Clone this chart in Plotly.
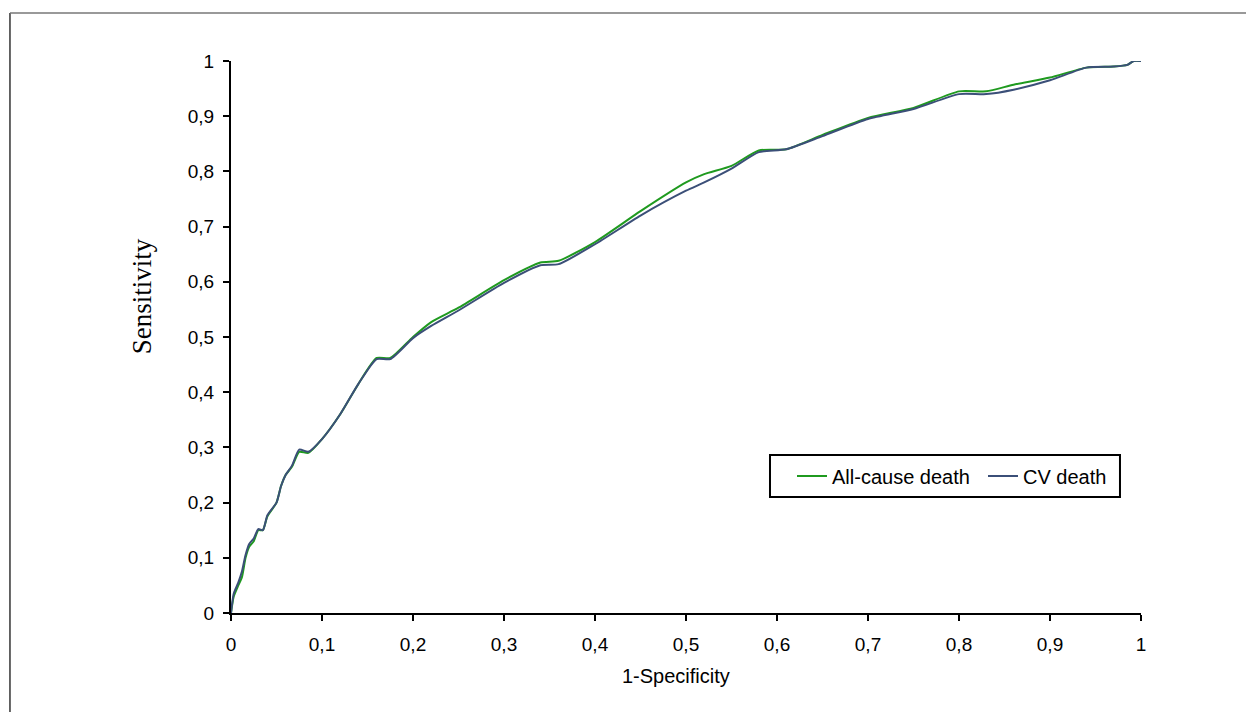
import plotly.graph_objects as go

# All-cause death ROC
fpr_all = [0, 0.003, 0.008, 0.012, 0.016, 0.02, 0.025, 0.03, 0.035, 0.04, 0.05, 0.055, 0.06, 0.067,
           0.075, 0.085, 0.1, 0.12, 0.14, 0.16, 0.175, 0.2, 0.22, 0.25, 0.3, 0.34, 0.36, 0.4, 0.45,
           0.5, 0.52, 0.55, 0.58, 0.61, 0.65, 0.7, 0.75, 0.8, 0.83, 0.86, 0.9, 0.94, 0.97, 0.985, 0.992, 1]
tpr_all = [0, 0.03, 0.05, 0.065, 0.1, 0.12, 0.13, 0.15, 0.15, 0.175, 0.2, 0.23, 0.25, 0.265,
           0.292, 0.29, 0.315, 0.36, 0.415, 0.462, 0.462, 0.5, 0.527, 0.553, 0.603, 0.635, 0.638, 0.672, 0.728,
           0.78, 0.795, 0.81, 0.838, 0.84, 0.866, 0.897, 0.915, 0.945, 0.945, 0.957, 0.97, 0.988, 0.99, 0.993, 1.0, 1.0]

# CV death ROC
fpr_cv = [0, 0.003, 0.008, 0.012, 0.016, 0.02, 0.025, 0.03, 0.035, 0.04, 0.05, 0.055, 0.06, 0.067,
          0.075, 0.085, 0.1, 0.12, 0.14, 0.16, 0.175, 0.2, 0.22, 0.25, 0.3, 0.34, 0.36, 0.4, 0.45,
          0.5, 0.52, 0.55, 0.58, 0.61, 0.65, 0.7, 0.75, 0.8, 0.83, 0.86, 0.9, 0.94, 0.97, 0.985, 0.992, 1]
tpr_cv = [0, 0.035, 0.055, 0.075, 0.105, 0.125, 0.135, 0.152, 0.15, 0.177, 0.2, 0.23, 0.25, 0.267,
          0.296, 0.292, 0.315, 0.36, 0.415, 0.46, 0.46, 0.498, 0.52, 0.548, 0.598, 0.63, 0.632, 0.668, 0.72,
          0.765, 0.78, 0.805, 0.835, 0.84, 0.864, 0.895, 0.913, 0.94, 0.94, 0.948, 0.965, 0.988, 0.99, 0.993, 1.0, 1.0]

tick_vals = [0, 0.1, 0.2, 0.3, 0.4, 0.5, 0.6, 0.7, 0.8, 0.9, 1]
tick_text = ["0", "0,1", "0,2", "0,3", "0,4", "0,5", "0,6", "0,7", "0,8", "0,9", "1"]

SANS = "Liberation Sans, Arial, sans-serif"
SERIF = "Liberation Serif, Times New Roman, serif"

fig = go.Figure()
fig.add_trace(go.Scatter(x=fpr_all, y=tpr_all, mode="lines", name="All-cause death", legend="legend",
                         line=dict(color="#1f9a1f", width=2, shape="spline", smoothing=0.6)))
fig.add_trace(go.Scatter(x=fpr_cv, y=tpr_cv, mode="lines", name="CV death", legend="legend2",
                         line=dict(color="#3b4f78", width=2, shape="spline", smoothing=0.6)))

leg_common = dict(orientation="h", xanchor="left", yanchor="middle", y=0.248,
                  borderwidth=0, bgcolor="rgba(0,0,0,0)",
                  font=dict(size=20, family=SANS, color="black"), itemwidth=30)

fig.update_layout(
    width=1238, height=704, autosize=False,
    margin=dict(l=223, r=105, t=53, b=99),
    paper_bgcolor="white", plot_bgcolor="white",
    font=dict(family=SANS, color="black"),
    showlegend=True,
    legend=dict(x=(792 - 231) / 910, **leg_common),
    legend2=dict(x=(983 - 231) / 910, **leg_common),
    shapes=[
        dict(type="line", xref="paper", yref="paper", x0=-0.2429, x1=-0.2429, y0=-0.3, y1=1.087,
             line=dict(color="#333333", width=1.5)),
        dict(type="line", xref="paper", yref="paper", x0=-0.2429, x1=1.2, y0=1.087, y1=1.087,
             line=dict(color="#777777", width=1.5)),
        dict(type="rect", xref="paper", yref="paper", x0=0.5923, x1=0.9769, y0=0.2101, y1=0.2862,
             line=dict(color="black", width=2), fillcolor="rgba(0,0,0,0)", layer="above"),
    ],
    annotations=[
        dict(text="Sensitivity", xref="paper", yref="paper", x=-0.0978, y=0.574,
             xanchor="center", yanchor="middle", textangle=-90, showarrow=False,
             font=dict(size=27, family=SERIF, color="black")),
        dict(text="1-Specificity", xref="paper", yref="paper", x=0.489, y=-0.114,
             xanchor="center", yanchor="middle", showarrow=False,
             font=dict(size=20, family=SANS, color="black")),
    ],
)
fig.update_xaxes(range=[0, 1], tickvals=tick_vals, ticktext=tick_text, showgrid=False, zeroline=False,
                 showline=True, linecolor="black", linewidth=2, ticks="outside", ticklen=6,
                 tickwidth=2, tickcolor="black", tickfont=dict(size=19), ticklabelstandoff=7)
fig.update_yaxes(range=[0, 1], tickvals=tick_vals, ticktext=tick_text, showgrid=False, zeroline=False,
                 showline=True, linecolor="black", linewidth=2, ticks="outside", ticklen=6,
                 tickwidth=2, tickcolor="black", tickfont=dict(size=19), ticklabelstandoff=5)

fig.write_html("out.html")
